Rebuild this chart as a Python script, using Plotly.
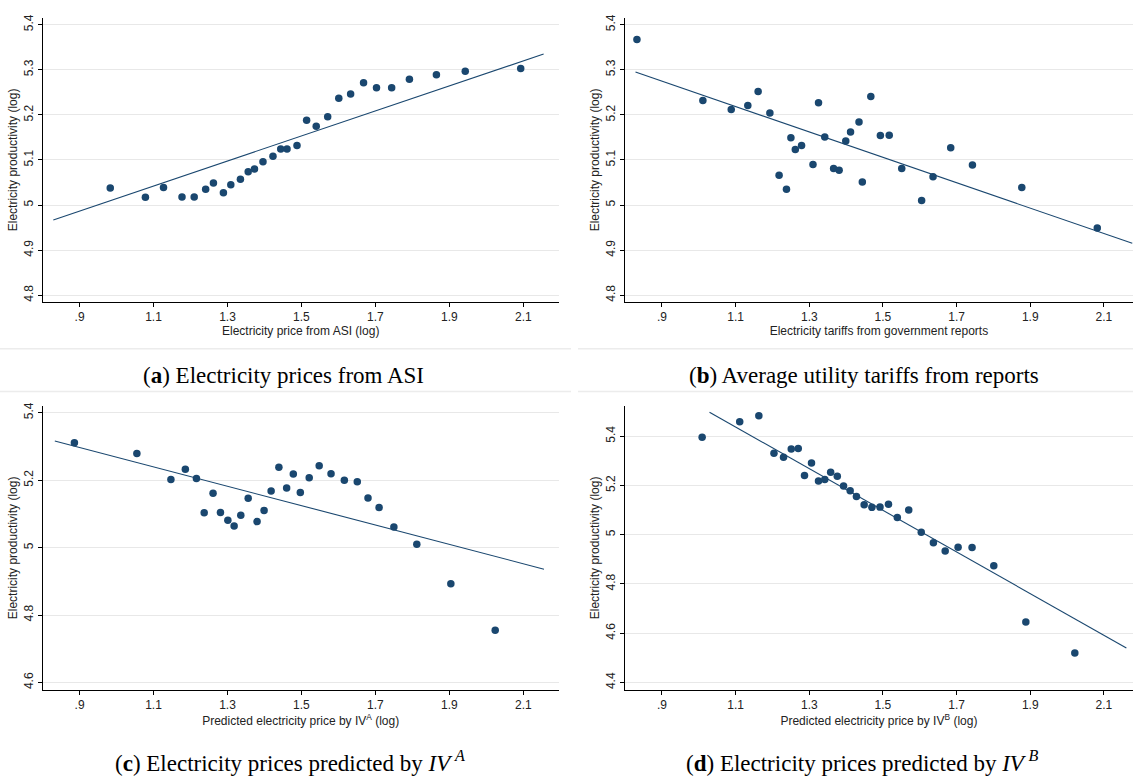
import plotly.graph_objects as go

# ---- (a) Electricity prices from ASI ----
price_asi = [0.983, 1.078, 1.127, 1.177, 1.210, 1.241, 1.262, 1.289, 1.309, 1.335,
             1.356, 1.373, 1.396, 1.423, 1.444, 1.461, 1.488, 1.514, 1.540, 1.571,
             1.601, 1.633, 1.668, 1.703, 1.744, 1.792, 1.865, 1.943, 2.093]
prod_asi = [5.038, 5.017, 5.039, 5.018, 5.018, 5.035, 5.049, 5.027, 5.045, 5.057,
            5.074, 5.080, 5.096, 5.108, 5.124, 5.124, 5.132, 5.188, 5.175, 5.196,
            5.237, 5.246, 5.271, 5.260, 5.260, 5.279, 5.289, 5.297, 5.303]
fit_asi_x = [0.829, 2.155]
fit_asi_y = [4.967, 5.335]

# ---- (b) Average utility tariffs from reports ----
tariff_rep = [0.832, 1.011, 1.088, 1.133, 1.161, 1.193, 1.218, 1.238, 1.250, 1.262,
              1.279, 1.310, 1.325, 1.342, 1.366, 1.381, 1.399, 1.412, 1.435, 1.444,
              1.467, 1.493, 1.517, 1.551, 1.605, 1.636, 1.684, 1.743, 1.877, 2.082]
prod_rep = [5.367, 5.232, 5.212, 5.221, 5.252, 5.204, 5.066, 5.035, 5.149, 5.123,
            5.132, 5.090, 5.227, 5.151, 5.081, 5.077, 5.142, 5.162, 5.184, 5.051,
            5.241, 5.154, 5.155, 5.081, 5.010, 5.063, 5.127, 5.089, 5.039, 4.949]
fit_rep_x = [0.828, 2.177]
fit_rep_y = [5.295, 4.915]

# ---- (c) Prices predicted by IV^A ----
pred_iva = [0.886, 1.055, 1.147, 1.186, 1.216, 1.237, 1.261, 1.281, 1.301, 1.318,
            1.336, 1.356, 1.380, 1.399, 1.418, 1.439, 1.460, 1.478, 1.497, 1.521,
            1.548, 1.580, 1.616, 1.651, 1.680, 1.710, 1.750, 1.812, 1.904, 2.024]
prod_iva = [5.311, 5.279, 5.202, 5.232, 5.205, 5.103, 5.161, 5.104, 5.081, 5.064,
            5.096, 5.146, 5.077, 5.110, 5.168, 5.238, 5.177, 5.218, 5.163, 5.207,
            5.243, 5.219, 5.200, 5.195, 5.147, 5.119, 5.061, 5.010, 4.893, 4.755]
fit_iva_x = [0.833, 2.156]
fit_iva_y = [5.316, 4.936]

# ---- (d) Prices predicted by IV^B ----
pred_ivb = [1.009, 1.111, 1.163, 1.204, 1.230, 1.251, 1.270, 1.287, 1.306, 1.325,
            1.342, 1.358, 1.376, 1.393, 1.411, 1.428, 1.449, 1.470, 1.492, 1.515,
            1.539, 1.570, 1.604, 1.637, 1.669, 1.704, 1.742, 1.801, 1.888, 2.021]
prod_ivb = [5.395, 5.458, 5.483, 5.330, 5.314, 5.348, 5.350, 5.240, 5.291, 5.218,
            5.224, 5.253, 5.237, 5.198, 5.178, 5.155, 5.121, 5.111, 5.112, 5.123,
            5.070, 5.100, 5.010, 4.967, 4.934, 4.949, 4.948, 4.874, 4.646, 4.520]
fit_ivb_x = [1.029, 2.161]
fit_ivb_y = [5.497, 4.540]

# tick values / labels
x_ticks = [0.9, 1.1, 1.3, 1.5, 1.7, 1.9, 2.1]
x_ticktext = [".9", "1.1", "1.3", "1.5", "1.7", "1.9", "2.1"]
y_ticks_ab = [4.8, 4.9, 5.0, 5.1, 5.2, 5.3, 5.4]
y_ticktext_ab = ["4.8", "4.9", "5", "5.1", "5.2", "5.3", "5.4"]
y_ticks_c = [4.6, 4.8, 5.0, 5.2, 5.4]
y_ticktext_c = ["4.6", "4.8", "5", "5.2", "5.4"]
y_ticks_d = [4.4, 4.6, 4.8, 5.0, 5.2, 5.4]
y_ticktext_d = ["4.4", "4.6", "4.8", "5", "5.2", "5.4"]

x_titles = ["Electricity price from ASI (log)",
            "Electricity tariffs from government reports",
            "Predicted electricity price by IV<sup>A</sup> (log)",
            "Predicted electricity price by IV<sup>B</sup> (log)"]
y_title = "Electricity productivity (log)"
captions = ["(<b>a</b>) Electricity prices from ASI",
            "(<b>b</b>) Average utility tariffs from reports",
            "(<b>c</b>) Electricity prices predicted by <i>IV</i>\u2009<sup><i>A</i></sup>",
            "(<b>d</b>) Electricity prices predicted by <i>IV</i>\u2009<sup><i>B</i></sup>"]

W, H = 1133, 776
NAVY = "#1a476f"
SANS = "Liberation Sans, Arial, sans-serif"
SERIF = "Liberation Serif, Times New Roman, serif"

panels = [
    (price_asi, prod_asi, fit_asi_x, fit_asi_y),
    (tariff_rep, prod_rep, fit_rep_x, fit_rep_y),
    (pred_iva, prod_iva, fit_iva_x, fit_iva_y),
    (pred_ivb, prod_ivb, fit_ivb_x, fit_ivb_y),
]

# pixel boxes of each plotting area: (left, right, top, bottom)
boxes = [(42.6, 558.8, 14, 299.5), (624.8, 1133, 14, 299.5),
         (42.6, 558.8, 404, 689.5), (624.8, 1133, 404, 689.5)]
x_ranges = [[0.8, 2.196], [0.799, 2.179], [0.8, 2.196], [0.799, 2.179]]
y_ranges = [[4.785, 5.415], [4.785, 5.415], [4.578, 5.42], [4.37, 5.5225]]
y_tick_sets = [(y_ticks_ab, y_ticktext_ab), (y_ticks_ab, y_ticktext_ab),
               (y_ticks_c, y_ticktext_c), (y_ticks_d, y_ticktext_d)]

fig = go.Figure()
layout = dict(
    width=W, height=H,
    margin=dict(l=0, r=0, t=0, b=0),
    paper_bgcolor="white", plot_bgcolor="white",
    showlegend=False,
)

for i, (xs, ys, fx, fy) in enumerate(panels):
    n = "" if i == 0 else str(i + 1)
    xa, ya = "x" + n, "y" + n
    fig.add_trace(go.Scatter(x=fx, y=fy, mode="lines", xaxis=xa, yaxis=ya,
                             line=dict(color=NAVY, width=1.1), hoverinfo="skip"))
    fig.add_trace(go.Scatter(x=xs, y=ys, mode="markers", xaxis=xa, yaxis=ya,
                             marker=dict(color=NAVY, size=7.5, line=dict(width=0))))
    l, r, t, b = boxes[i]
    yt, ytt = y_tick_sets[i]
    layout["xaxis" + n] = dict(
        domain=[l / W, r / W], anchor=ya, range=x_ranges[i],
        tickvals=x_ticks, ticktext=x_ticktext,
        ticks="outside", ticklen=4, tickcolor="black", tickwidth=1,
        showline=True, linecolor="black", linewidth=1,
        showgrid=False, zeroline=False,
        tickfont=dict(family=SANS, size=12, color="#222"),
        title=dict(text=x_titles[i], font=dict(family=SANS, size=12, color="#222"),
                   standoff=2),
    )
    layout["yaxis" + n] = dict(
        domain=[1 - b / H, 1 - t / H], anchor=xa, range=y_ranges[i],
        tickvals=yt, ticktext=ytt, tickangle=-90,
        ticks="outside", ticklen=4, tickcolor="black", tickwidth=1,
        showline=True, linecolor="black", linewidth=1,
        showgrid=True, gridcolor="#e8e8e8", gridwidth=1, zeroline=False,
        tickfont=dict(family=SANS, size=12, color="#222"),
        title=dict(text=y_title, font=dict(family=SANS, size=12, color="#222"),
                   standoff=1),
    )

fig.update_layout(**layout)

# sub-figure captions (baseline positions in pixels)
cap_pos = [(283, 382), (864, 382), (290, 772), (862, 772)]
for txt, (cx, cy) in zip(captions, cap_pos):
    fig.add_annotation(text=txt, x=cx / W, y=1 - cy / H, xref="paper", yref="paper",
                       xanchor="center", yanchor="bottom", yshift=-6, showarrow=False,
                       font=dict(family=SERIF, size=23, color="black"))

# faint separators around the caption row
for yy in (346.5, 389.5):
    for x0, x1 in ((0, 571), (578, 1133)):
        fig.add_shape(type="line", xref="paper", yref="paper",
                      x0=x0 / W, x1=x1 / W, y0=1 - yy / H, y1=1 - yy / H,
                      line=dict(color="#ececec", width=1.5))

fig.write_html("out.html")
